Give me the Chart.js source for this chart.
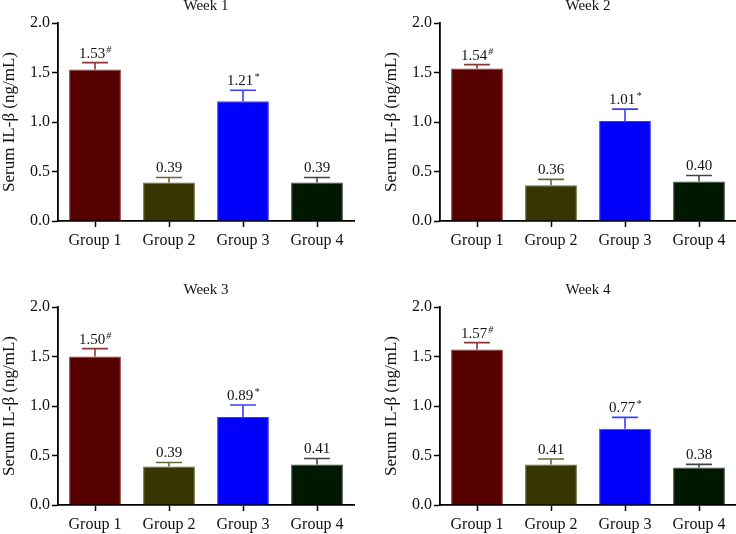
<!DOCTYPE html>
<html>
<head>
<meta charset="utf-8">
<script src="https://cdn.jsdelivr.net/npm/chart.js@4"></script>
<style>
  html, body { margin: 0; padding: 0; background: #fff; }
  body { width: 736px; height: 534px; overflow: hidden; position: relative; }
  .panel { position: absolute; width: 382px; height: 284px; }
</style>
</head>
<body>
<div class="panel" style="left:-14px;top:-17px"><canvas id="c0"></canvas></div>
<div class="panel" style="left:368px;top:-17px"><canvas id="c1"></canvas></div>
<div class="panel" style="left:-14px;top:267px"><canvas id="c2"></canvas></div>
<div class="panel" style="left:368px;top:267px"><canvas id="c3"></canvas></div>
<script>
  // ── Data ─────────────────────────────────────────────────────────────────
  const groups = ["Group 1", "Group 2", "Group 3", "Group 4"];
  const weeks = ["Week 1", "Week 2", "Week 3", "Week 4"];
  const yTicks = [0, 0.5, 1.0, 1.5, 2.0];

  // mean serum IL-β per group, one array per week
  const week1 = [1.53, 0.39, 1.21, 0.39];
  const week2 = [1.54, 0.36, 1.01, 0.40];
  const week3 = [1.50, 0.39, 0.89, 0.41];
  const week4 = [1.57, 0.41, 0.77, 0.38];

  // upper error bar length (estimated from caps)
  const err1 = [0.07, 0.05, 0.11, 0.05];
  const err2 = [0.04, 0.06, 0.12, 0.06];
  const err3 = [0.08, 0.04, 0.12, 0.06];
  const err4 = [0.07, 0.055, 0.115, 0.03];

  // significance marks shown as superscripts
  const marks = ["#", "", "*", ""];

  const means = [week1, week2, week3, week4];
  const errs = [err1, err2, err3, err4];

  // ── Colours ──────────────────────────────────────────────────────────────
  const barColors = ["#560000", "#383600", "#0000fb", "#001700"];
  const edgeColors = ["#8a3a3a", "#6b6833", "#3c3cff", "#3c4a3c"];

  const FONT = "'Liberation Serif', 'Times New Roman', serif";

  // Draws the upper error bar + value label above each bar
  function errorBarPlugin(err) {
    return {
      id: "errorBars",
      afterDatasetsDraw(chart) {
        const ctx = chart.ctx;
        const meta = chart.getDatasetMeta(0);
        const data = chart.data.datasets[0].data;
        const y = chart.scales.y;
        meta.data.forEach((bar, i) => {
          const top = y.getPixelForValue(data[i] + err[i]);
          const half = bar.width / 4;
          ctx.save();
          ctx.strokeStyle = edgeColors[i];
          ctx.lineWidth = 1.6;
          ctx.beginPath();
          ctx.moveTo(bar.x, bar.y);
          ctx.lineTo(bar.x, top);
          ctx.moveTo(bar.x - half, top);
          ctx.lineTo(bar.x + half, top);
          ctx.stroke();

          // label: value with a small raised mark
          const txt = data[i].toFixed(2);
          ctx.fillStyle = "#111";
          ctx.textBaseline = "alphabetic";
          ctx.font = "15px " + FONT;
          const w1 = ctx.measureText(txt).width;
          ctx.font = "10px " + FONT;
          const w2 = marks[i] ? ctx.measureText(marks[i]).width + 1 : 0;
          const x0 = bar.x - (w1 + w2) / 2;
          const base = top - 5;
          ctx.textAlign = "left";
          ctx.font = "15px " + FONT;
          ctx.fillText(txt, x0, base);
          if (marks[i]) {
            ctx.font = "italic 10px " + FONT;
            ctx.fillText(marks[i], x0 + w1 + 1, base - 5);
          }
          ctx.restore();
        });
      }
    };
  }

  weeks.forEach((week, k) => {
    new Chart(document.getElementById("c" + k), {
      type: "bar",
      data: {
        labels: groups,
        datasets: [{
          data: means[k],
          backgroundColor: barColors,
          borderColor: edgeColors,
          borderWidth: 1,
          barPercentage: 0.7,
          categoryPercentage: 1.0
        }]
      },
      options: {
        responsive: true,
        maintainAspectRatio: false,
        animation: false,
        events: [],
        layout: { padding: { top: 0, left: 0, right: 14, bottom: 0 } },
        plugins: {
          legend: { display: false },
          tooltip: { enabled: false },
          title: {
            display: true,
            text: week,
            fullSize: false,
            color: "#111",
            font: { family: FONT, size: 15, weight: "normal", lineHeight: 1.2 },
            padding: { top: 14, bottom: 8 }
          }
        },
        scales: {
          x: {
            afterFit: (s) => { s.height = 46; },
            grid: {
              drawOnChartArea: false,
              offset: false,
              tickLength: 6,
              color: "#000",
              tickColor: "#000",
              tickWidth: 1.5
            },
            border: { color: "#000", width: 1.8 },
            ticks: {
              color: "#111",
              padding: 4,
              font: { family: FONT, size: 16 }
            }
          },
          y: {
            min: 0,
            max: 2,
            afterFit: (s) => { s.width = 72; },
            afterBuildTicks: (s) => { s.ticks = yTicks.map(v => ({ value: v })); },
            grid: {
              drawOnChartArea: false,
              tickLength: 6,
              tickColor: "#000",
              tickWidth: 1.5
            },
            border: { color: "#000", width: 1.8 },
            ticks: {
              color: "#111",
              padding: 2,
              font: { family: FONT, size: 16 },
              callback: (v) => Number(v).toFixed(1)
            },
            title: {
              display: true,
              text: "Serum IL-β (ng/mL)",
              color: "#111",
              font: { family: FONT, size: 17, lineHeight: 1.2 },
              padding: { top: 13, bottom: 0 }
            }
          }
        }
      },
      plugins: [errorBarPlugin(errs[k])]
    });
  });
</script>
</body>
</html>
